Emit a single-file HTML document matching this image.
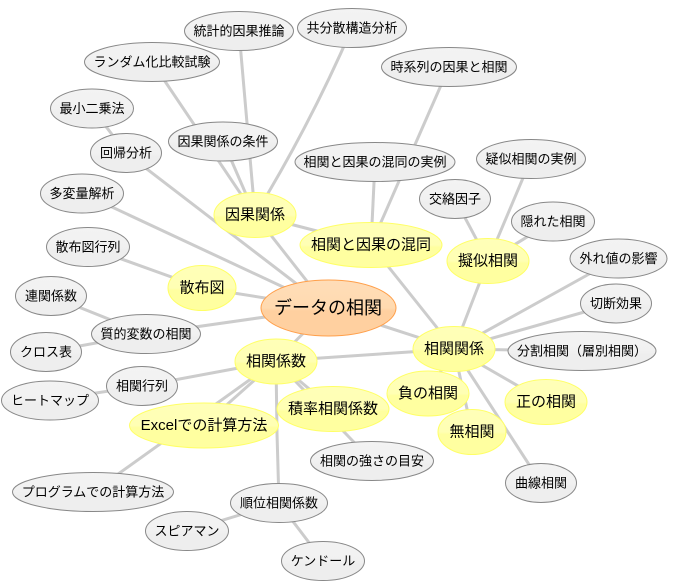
<!DOCTYPE html>
<html lang="ja"><head><meta charset="utf-8"><title>データの相関</title>
<style>
html,body{margin:0;padding:0;background:#fff;width:684px;height:587px;overflow:hidden}
svg{display:block}
text{font-family:"Liberation Sans","Noto Sans CJK JP",sans-serif;text-anchor:middle;dominant-baseline:central;fill:#000}
.g ellipse{fill:url(#gg);stroke:#888;stroke-width:1}
.y ellipse{fill:url(#gy);stroke:#ffff66;stroke-width:1}
.g text{font-size:13px}.y text{font-size:15px}
line,path.e{stroke:#ccc;stroke-width:3;fill:none}
</style></head><body>
<svg width="684" height="587" viewBox="0 0 684 587" xmlns="http://www.w3.org/2000/svg">
<defs>
<linearGradient id="gg" x1="0" y1="0" x2="0" y2="1"><stop offset="0" stop-color="#f3f3f3"/><stop offset=".5" stop-color="#f1f1f1"/><stop offset=".6" stop-color="#eee"/><stop offset="1" stop-color="#eee"/></linearGradient>
<linearGradient id="gy" x1="0" y1="0" x2="0" y2="1"><stop offset="0" stop-color="#ffffb8"/><stop offset=".5" stop-color="#ffffb4"/><stop offset=".55" stop-color="#ffffa0"/><stop offset="1" stop-color="#ffffa0"/></linearGradient>
<linearGradient id="go" x1="0" y1="0" x2="0" y2="1"><stop offset="0" stop-color="#ffddb8"/><stop offset=".5" stop-color="#ffdab0"/><stop offset=".55" stop-color="#ffd0a0"/><stop offset="1" stop-color="#ffd0a0"/></linearGradient>
</defs>
<g>
<line x1="328" y1="308" x2="255" y2="215"/>
<line x1="328" y1="308" x2="82" y2="193"/>
<line x1="328" y1="308" x2="126" y2="153"/>
<line x1="328" y1="308" x2="202" y2="288"/>
<line x1="328" y1="308" x2="146" y2="334"/>
<line x1="328" y1="308" x2="276" y2="361"/>
<line x1="328" y1="308" x2="454" y2="349"/>
<line x1="371" y1="245" x2="454" y2="349"/>
<line x1="488" y1="261" x2="454" y2="349"/>
<line x1="255" y1="215" x2="371" y2="245"/>
<line x1="255" y1="215" x2="223" y2="141"/>
<line x1="255" y1="215" x2="152" y2="62"/>
<line x1="255" y1="215" x2="239" y2="31"/>
<path class="e" d="M255 215Q310 125 352 28"/>
<line x1="92" y1="108" x2="126" y2="153"/>
<line x1="371" y1="245" x2="375" y2="162"/>
<line x1="371" y1="245" x2="449" y2="67"/>
<line x1="488" y1="261" x2="455" y2="199"/>
<line x1="488" y1="261" x2="531" y2="159"/>
<line x1="488" y1="261" x2="553" y2="221"/>
<line x1="454" y1="349" x2="618" y2="258"/>
<line x1="454" y1="349" x2="616" y2="303"/>
<line x1="454" y1="349" x2="582" y2="351"/>
<line x1="454" y1="349" x2="546" y2="402"/>
<line x1="454" y1="349" x2="541" y2="483"/>
<line x1="454" y1="349" x2="472" y2="432"/>
<line x1="454" y1="349" x2="428" y2="393"/>
<line x1="454" y1="349" x2="276" y2="361"/>
<line x1="146" y1="334" x2="51" y2="296"/>
<line x1="146" y1="334" x2="46" y2="352"/>
<line x1="202" y1="288" x2="88" y2="247"/>
<line x1="276" y1="361" x2="142" y2="386"/>
<line x1="142" y1="386" x2="50" y2="400"/>
<line x1="276" y1="361" x2="204" y2="425"/>
<line x1="276" y1="361" x2="93" y2="492"/>
<line x1="276" y1="361" x2="333" y2="409"/>
<line x1="276" y1="361" x2="372" y2="461"/>
<path class="e" d="M276 361L277 433L279 503"/>
<line x1="279" y1="503" x2="187" y2="531"/>
<line x1="279" y1="503" x2="323" y2="561"/>
</g>
<g class="g">
<ellipse cx="239" cy="31" rx="54.5" ry="19.5"/><text x="239" y="31">統計的因果推論</text>
<ellipse cx="352" cy="28" rx="54.5" ry="19.5"/><text x="352" y="28">共分散構造分析</text>
<ellipse cx="152" cy="62" rx="67.5" ry="19.5"/><text x="152" y="62">ランダム化比較試験</text>
<ellipse cx="92" cy="108.5" rx="41.5" ry="19.5"/><text x="92" y="108.5">最小二乗法</text>
<ellipse cx="126" cy="153" rx="35.5" ry="19.5"/><text x="126" y="153">回帰分析</text>
<ellipse cx="223" cy="141.5" rx="54.5" ry="19.5"/><text x="223" y="141.5">因果関係の条件</text>
<ellipse cx="82" cy="193.5" rx="41.5" ry="19.5"/><text x="82" y="193.5">多変量解析</text>
<ellipse cx="88" cy="247" rx="41.5" ry="19.5"/><text x="88" y="247">散布図行列</text>
<ellipse cx="51" cy="296" rx="35.5" ry="19.5"/><text x="51" y="296">連関係数</text>
<ellipse cx="146" cy="334" rx="54.5" ry="19.5"/><text x="146" y="334">質的変数の相関</text>
<ellipse cx="46" cy="352" rx="35.5" ry="19.5"/><text x="46" y="352">クロス表</text>
<ellipse cx="142" cy="386" rx="35.5" ry="19.5"/><text x="142" y="386">相関行列</text>
<ellipse cx="50" cy="400.5" rx="48.5" ry="19.5"/><text x="50" y="400.5">ヒートマップ</text>
<ellipse cx="93" cy="492" rx="80.5" ry="19.5"/><text x="93" y="492">プログラムでの計算方法</text>
<ellipse cx="279" cy="503" rx="48.5" ry="19.5"/><text x="279" y="503">順位相関係数</text>
<ellipse cx="187" cy="531" rx="41.5" ry="19.5"/><text x="187" y="531">スピアマン</text>
<ellipse cx="323" cy="561" rx="41.5" ry="19.5"/><text x="323" y="561">ケンドール</text>
<ellipse cx="372" cy="461" rx="61.5" ry="19.5"/><text x="372" y="461">相関の強さの目安</text>
<ellipse cx="541" cy="483" rx="35.5" ry="19.5"/><text x="541" y="483">曲線相関</text>
<ellipse cx="582" cy="351" rx="74" ry="19.5"/><text x="582" y="351">分割相関（層別相関）</text>
<ellipse cx="616" cy="303.5" rx="35.5" ry="19.5"/><text x="616" y="303.5">切断効果</text>
<ellipse cx="618.5" cy="258.5" rx="48.5" ry="19.5"/><text x="618.5" y="258.5">外れ値の影響</text>
<ellipse cx="553" cy="221.5" rx="41.5" ry="19.5"/><text x="553" y="221.5">隠れた相関</text>
<ellipse cx="455" cy="199" rx="35.5" ry="19.5"/><text x="455" y="199">交絡因子</text>
<ellipse cx="531" cy="159" rx="54.5" ry="19.5"/><text x="531" y="159">疑似相関の実例</text>
<ellipse cx="449" cy="67" rx="67.5" ry="19.5"/><text x="449" y="67">時系列の因果と相関</text>
<ellipse cx="375" cy="162" rx="80" ry="19.5"/><text x="375" y="162">相関と因果の混同の実例</text>
</g>
<g class="y">
<ellipse cx="255" cy="215" rx="41" ry="22.5"/><text x="255" y="215">因果関係</text>
<ellipse cx="371" cy="245" rx="71" ry="22.5"/><text x="371" y="245">相関と因果の混同</text>
<ellipse cx="488" cy="261" rx="41" ry="22.5"/><text x="488" y="261">擬似相関</text>
<ellipse cx="202" cy="288" rx="34" ry="22.5"/><text x="202" y="288">散布図</text>
<ellipse cx="276" cy="361.5" rx="41" ry="22.5"/><text x="276" y="361.5">相関係数</text>
<ellipse cx="204" cy="425.5" rx="74.5" ry="22.5"/><text x="204" y="425.5">Excelでの計算方法</text>
<ellipse cx="333" cy="409" rx="56" ry="22.5"/><text x="333" y="409">積率相関係数</text>
<ellipse cx="454" cy="349" rx="41" ry="22.5"/><text x="454" y="349">相関関係</text>
<ellipse cx="428" cy="393.5" rx="41" ry="22.5"/><text x="428" y="393.5">負の相関</text>
<ellipse cx="472" cy="432" rx="34" ry="22.5"/><text x="472" y="432">無相関</text>
<ellipse cx="546" cy="402" rx="41" ry="22.5"/><text x="546" y="402">正の相関</text>
</g>
<ellipse cx="328.500" cy="308" rx="67.500" ry="28" fill="url(#go)" stroke="#ff9f4a" stroke-width="1"/>
<text x="328" y="308" style="font-size:18px">データの相関</text>
</svg>
</body></html>
